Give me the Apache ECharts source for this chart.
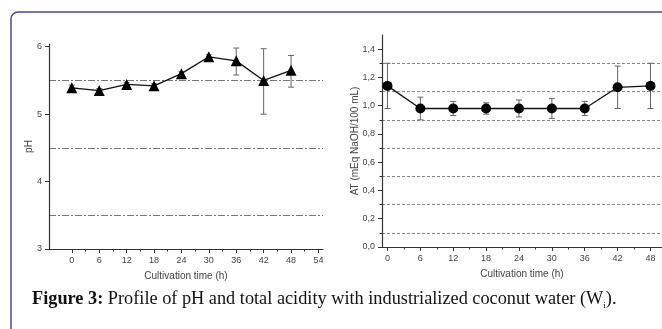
<!DOCTYPE html>
<html>
<head>
<meta charset="utf-8">
<script src="https://cdn.jsdelivr.net/npm/echarts@6/dist/echarts.min.js"></script>
<style>
  html, body { margin: 0; padding: 0; background: #fff; }
  #chart { width: 662px; height: 329px; }
</style>
</head>
<body>
<div id="chart"></div>
<script>
// sampling times (h)
const times = [0, 6, 12, 18, 24, 30, 36, 42, 48]
// pH, with error bar ends
const phMean = [5.39, 5.35, 5.44, 5.42, 5.60, 5.85, 5.79, 5.50, 5.65]
const phLow = [5.33, 5.30, 5.40, 5.38, 5.55, 5.79, 5.58, 5.00, 5.40]
const phHigh = [5.43, 5.38, 5.47, 5.45, 5.63, 5.88, 5.98, 5.97, 5.87]
// total acidity AT (mEq NaOH/100 mL), with error bar ends
const atMean = [1.14, 0.98, 0.98, 0.98, 0.98, 0.98, 0.98, 1.13, 1.14]
const atLow = [0.98, 0.90, 0.93, 0.94, 0.92, 0.91, 0.93, 0.98, 0.98]
const atHigh = [1.30, 1.06, 1.03, 1.02, 1.04, 1.05, 1.03, 1.28, 1.30]
// tick labels and reference lines
const timeTicks = [0, 6, 12, 18, 24, 30, 36, 42, 48, 54]
const timeMinor = [3, 9, 15, 21, 27, 33, 39, 45, 51]
const phTicks = [3, 4, 5, 6]
const phGrid = [3.5, 4.5, 5.5]
const atTicks = [0, 0.2, 0.4, 0.6, 0.8, 1.0, 1.2, 1.4]
const atGrid = [0.1, 0.3, 0.5, 0.7, 0.9, 1.1, 1.3]

const axisColor = '#333'
const textColor = '#444'
const labelFont = { color: textColor, fontSize: 9, fontFamily: 'Liberation Sans' }
const nameFont = { color: textColor, fontSize: 10, fontFamily: 'Liberation Sans' }

function errorBars(gridIdx, low, high) {
  return {
    type: 'custom',
    xAxisIndex: gridIdx * 2,
    yAxisIndex: gridIdx * 2,
    z: 1,
    data: times.map((t, i) => [t, low[i], high[i]]),
    renderItem: function(params, api) {
      const lo = api.coord([api.value(0), api.value(1)])
      const hi = api.coord([api.value(0), api.value(2)])
      const w = 3
      const style = { stroke: '#666', lineWidth: 1 }
      return {
        type: 'group',
        children: [
          { type: 'line', shape: { x1: lo[0], y1: lo[1], x2: hi[0], y2: hi[1] }, style },
          { type: 'line', shape: { x1: lo[0] - w, y1: lo[1], x2: lo[0] + w, y2: lo[1] }, style },
          { type: 'line', shape: { x1: hi[0] - w, y1: hi[1], x2: hi[0] + w, y2: hi[1] }, style }
        ]
      }
    }
  }
}

function xAxes(gridIndex, min, max) {
  return [
    {
      type: 'value', gridIndex, min, max, position: 'bottom',
      axisLine: { onZero: false, lineStyle: { color: axisColor, width: 1.2 } },
      axisTick: { customValues: timeTicks, length: 4, lineStyle: { color: axisColor } },
      axisLabel: { customValues: timeTicks, margin: 7, ...labelFont },
      splitLine: { show: false },
      name: 'Cultivation time (h)', nameLocation: 'middle', nameGap: 22, nameTextStyle: nameFont
    },
    {
      // minor ticks only
      type: 'value', gridIndex, min, max, position: 'bottom',
      axisLine: { show: false, onZero: false },
      axisTick: { customValues: timeMinor, length: 2.5, lineStyle: { color: axisColor } },
      axisLabel: { show: false },
      splitLine: { show: false }
    }
  ]
}

const myChart = echarts.init(document.getElementById('chart'))
const option = {
  animation: false,
  title: {
    text: '{b|Figure 3:} Profile of pH and total acidity with industrialized coconut water (W{s|i}).',
    left: 27,
    top: 284,
    textStyle: {
      fontFamily: 'Liberation Serif',
      fontSize: 18.3,
      fontWeight: 'normal',
      color: '#111',
      rich: {
        b: { fontFamily: 'Liberation Serif', fontSize: 18.3, fontWeight: 'bold', color: '#111' },
        s: { fontFamily: 'Liberation Serif', fontSize: 9, color: '#111', padding: [12, 0, 0, 0] }
      }
    }
  },
  graphic: [
    {
      type: 'rect',
      shape: { x: 11, y: 12, width: 720, height: 400, r: 7 },
      style: { fill: 'none', stroke: '#4b4b8c', lineWidth: 1.5 },
      silent: true
    }
  ],
  grid: [
    { left: 49, top: 44, width: 274, height: 205 },
    { left: 382, top: 35, width: 280, height: 212 }
  ],
  xAxis: [...xAxes(0, -5, 55), ...xAxes(1, -1, 50.1)],
  yAxis: [
    {
      type: 'value', gridIndex: 0, min: 3, max: 6.04,
      axisLine: { show: true, onZero: false, lineStyle: { color: axisColor, width: 1.2 } },
      axisTick: { show: true, customValues: phTicks, length: 4, lineStyle: { color: axisColor } },
      axisLabel: { customValues: phTicks, margin: 7, ...labelFont },
      splitLine: { show: false },
      name: 'pH', nameLocation: 'middle', nameGap: 15, nameMoveOverlap: false, nameTextStyle: nameFont
    },
    {
      // dash-dot reference lines
      type: 'value', gridIndex: 0, min: 3, max: 6.04, position: 'left',
      axisLine: { show: false, onZero: false },
      axisTick: { show: false, customValues: phGrid },
      axisLabel: { show: false },
      splitLine: { show: true, lineStyle: { color: '#777', width: 1, type: [7, 2, 2, 2] } }
    },
    {
      type: 'value', gridIndex: 1, min: 0, max: 1.5,
      axisLine: { show: true, onZero: false, lineStyle: { color: axisColor, width: 1.2 } },
      axisTick: { show: true, customValues: atTicks, length: 4, lineStyle: { color: axisColor } },
      axisLabel: {
        customValues: atTicks, margin: 7, ...labelFont,
        formatter: v => v.toFixed(1).replace('.', ',')
      },
      splitLine: { show: false },
      name: 'AT (mEq NaOH/100 mL)', nameLocation: 'middle', nameGap: 22, nameMoveOverlap: false, nameTextStyle: nameFont
    },
    {
      // minor ticks + dashed reference lines
      type: 'value', gridIndex: 1, min: 0, max: 1.5, position: 'left',
      axisLine: { show: false, onZero: false },
      axisTick: { show: true, customValues: atGrid, length: 2.5, lineStyle: { color: axisColor } },
      axisLabel: { show: false },
      splitLine: { show: true, lineStyle: { color: '#888', width: 1, type: [3, 2] } }
    }
  ],
  series: [
    errorBars(0, phLow, phHigh),
    {
      type: 'line',
      xAxisIndex: 0,
      yAxisIndex: 0,
      z: 3,
      data: times.map((t, i) => [t, phMean[i]]),
      symbol: 'triangle',
      symbolSize: 11,
      lineStyle: { color: '#111', width: 1.3 },
      itemStyle: { color: '#000' }
    },
    errorBars(1, atLow, atHigh),
    {
      type: 'line',
      xAxisIndex: 2,
      yAxisIndex: 2,
      z: 3,
      data: times.map((t, i) => [t, atMean[i]]),
      symbol: 'circle',
      symbolSize: 10,
      lineStyle: { color: '#111', width: 1.3 },
      itemStyle: { color: '#000' }
    }
  ]
}
myChart.setOption(option)
</script>
</body>
</html>
